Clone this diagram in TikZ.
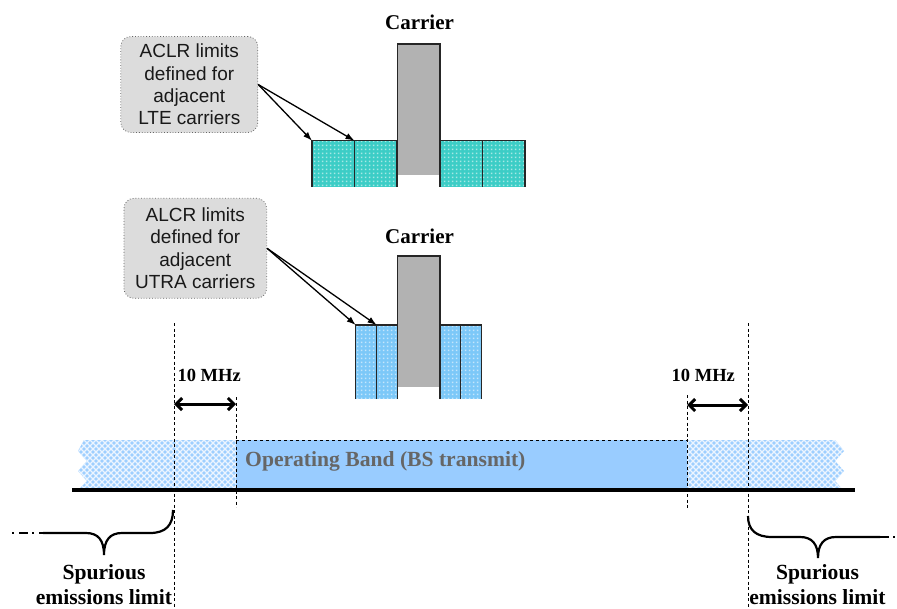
\documentclass[tikz,border=0pt]{standalone}
\usepackage{fontspec}
\setmainfont{Liberation Serif}
\setsansfont{Liberation Sans}
\usepackage{tikz}
\usetikzlibrary{positioning,arrows.meta,patterns}
\usepackage{xcolor}
\definecolor{lteteal}{HTML}{3CCDC6}
\definecolor{utra}{HTML}{7CC8F8}
\definecolor{band}{HTML}{99CCFF}
\definecolor{hatch}{HTML}{9ECFFF}
\definecolor{carrgray}{HTML}{B2B2B2}
\definecolor{notegray}{HTML}{DCDCDC}
\definecolor{bandtext}{HTML}{666666}

\pgfdeclarepatternformonly{sqdots}{\pgfqpoint{0pt}{0pt}}{\pgfqpoint{3.6pt}{3.6pt}}{\pgfqpoint{3.6pt}{3.6pt}}{%
  \pgfpathrectangle{\pgfqpoint{1pt}{1pt}}{\pgfqpoint{1.5pt}{1.5pt}}\pgfusepath{fill}}
\pgfdeclarepatternformonly{diamondhatch}{\pgfqpoint{-1pt}{-1pt}}{\pgfqpoint{7pt}{7pt}}{\pgfqpoint{6pt}{6pt}}{%
  \pgfsetlinewidth{1.1pt}%
  \pgfpathmoveto{\pgfqpoint{0pt}{0pt}}\pgfpathlineto{\pgfqpoint{6pt}{6pt}}%
  \pgfpathmoveto{\pgfqpoint{0pt}{6pt}}\pgfpathlineto{\pgfqpoint{6pt}{0pt}}\pgfusepath{stroke}}

\begin{document}
\begin{tikzpicture}[
    x=1pt, y=-1pt,
    callout/.style={draw=black!60, dotted, line width=0.8pt, fill=notegray, rounded corners=10pt, align=center, inner sep=0pt,
        font=\sffamily\fontsize{19}{22.4}\selectfont, text=black!90},
    lteblk/.style={fill=lteteal, postaction={pattern=sqdots, pattern color=white!55!lteteal}, minimum width=42.5pt, minimum height=46pt, inner sep=0pt, outer sep=0pt},
    utrablk/.style={fill=utra, postaction={pattern=sqdots, pattern color=white!55!utra}, minimum width=20.9pt, minimum height=74pt, inner sep=0pt, outer sep=0pt},
    carr/.style={fill=carrgray, minimum width=42.5pt, minimum height=130.6pt, inner sep=0pt, outer sep=0pt},
    rim/.style={draw=black!85, line width=1.1pt},
    hdr/.style={font=\bfseries\fontsize{21}{25}\selectfont, inner sep=0pt},
    lbl/.style={font=\bfseries\fontsize{21.6}{25}\selectfont, align=center, inner sep=0pt},
    flow/.style={-{Latex[length=9pt,width=6.5pt]}, line width=1.3pt},
    span/.style={{Straight Barb[length=6pt,width=12pt]}-{Straight Barb[length=6pt,width=12pt]}, line width=3pt},
    guide/.style={dash pattern=on 3pt off 2.5pt, line width=0.8pt},
    brace/.style={line width=2.2pt}
]
\useasboundingbox (0,0) rectangle (897,608);

% band with spurious zones either side
\path[fill=hatch, postaction={pattern=diamondhatch, pattern color=white!80!hatch}] (84,440) -- (236,440) -- (236,490) -- (78,490) -- (87,481) -- (78,471) -- (87,461) -- (78,451) -- cycle;
\path[fill=hatch, postaction={pattern=diamondhatch, pattern color=white!80!hatch}] (687,440) -- (835,440) -- (844,451) -- (835,461) -- (844,471) -- (835,481) -- (843,490) -- (687,490) -- cycle;
\fill[band] (236,440) rectangle (687,490);
\draw[dashed, line width=0.7pt] (236,440) -- (687,440);
\node[lbl, text=bandtext, anchor=base west] (opband) at (245,466) {Operating Band (BS transmit)};

% guide lines
\draw[guide] (174,323) -- (174,608);
\draw[guide] (236,397) -- (236,507);
\draw[guide] (687,395) -- (687,508);
\draw[guide] (748,323) -- (748,608);
\draw[line width=3.2pt] (72,490) -- (855,490);

% LTE carriers
\node[lteblk, anchor=north west] (la1) at (312,140.7) {};
\node[lteblk, right=0pt of la1] (la2) {};
\node[carr, anchor=north west] (lc) at (397.5,44) {};
\node[lteblk, anchor=north west] (la3) at (lc.north east |- la2.north) {};
\node[lteblk, right=0pt of la3] (la4) {};
\draw[rim] (la1.south west) |- (la1.north east) -- (la1.south east);
\draw[rim] (la2.south west) |- (la2.north east) -- (la2.south east);
\draw[rim] (lc.south west) |- (lc.north east) -- (lc.south east);
\draw[rim] (la3.south west) |- (la3.north east) -- (la3.south east);
\draw[rim] (la4.south west) |- (la4.north east) -- (la4.south east);
\node[hdr, anchor=base] (ltecarr) at (419.5,29.5) {Carrier};

% UTRA carriers
\node[utrablk, anchor=north west] (ua1) at (355.7,325) {};
\node[utrablk, right=0pt of ua1] (ua2) {};
\node[carr, anchor=north west] (uc) at (397.5,256) {};
\node[utrablk, anchor=north west] (ua3) at (uc.north east |- ua2.north) {};
\node[utrablk, right=0pt of ua3] (ua4) {};
\draw[rim] (ua1.south west) |- (ua1.north east) -- (ua1.south east);
\draw[rim] (ua2.south west) |- (ua2.north east) -- (ua2.south east);
\draw[rim] (uc.south west) |- (uc.north east) -- (uc.south east);
\draw[rim] (ua3.south west) |- (ua3.north east) -- (ua3.south east);
\draw[rim] (ua4.south west) |- (ua4.north east) -- (ua4.south east);
\node[hdr, anchor=base] (utracarr) at (419.5,243.5) {Carrier};

% callouts
\node[callout, minimum width=137pt, minimum height=96pt] (lteNote) at (189.3,84.5) {ACLR limits\\defined for\\adjacent\\LTE carriers};
\node[callout, minimum width=142.7pt, minimum height=100pt] (utraNote) at (195.3,248.3) {ALCR limits\\defined for\\adjacent\\UTRA carriers};
\draw[flow] (lteNote.east) -- (la1.north west);
\draw[flow] (lteNote.east) -- (la2.north west);
\draw[flow] (utraNote.east) -- (ua1.north west);
\draw[flow] (utraNote.east) -- (ua2.north west);

% 10 MHz gaps
\coordinate (w1) at (174,404);
\coordinate (w2) at (236,404);
\coordinate (w3) at (687,405);
\coordinate (w4) at (748,405);
\draw[span] (w1) -- (w2);
\draw[span] (w3) -- (w4);
\node[hdr, font=\bfseries\fontsize{18.5}{22}\selectfont, anchor=base] (gapl) at (209.2,381) {10 MHz};
\node[hdr, font=\bfseries\fontsize{18.5}{22}\selectfont, anchor=base] (gapr) at (703.3,381) {10 MHz};

% spurious emissions braces
\draw[brace, dash pattern=on 2pt off 5pt on 9pt off 4pt] (12,533) -- (43,533);
\draw[brace] (43,533) -- (86,533) .. controls (98,533) and (104,540) .. (104,555) .. controls (104,540) and (110,533) .. (122,533) -- (150,533) .. controls (166,533) and (173,525) .. (173,510);
\draw[brace] (748,516) .. controls (748,530) and (756,537) .. (772,537) -- (800,537) .. controls (812,537) and (818,544) .. (818,558) .. controls (818,544) and (824,537) .. (836,537) -- (880,537);
\draw[brace, dash pattern=on 9pt off 4pt on 2pt off 5pt] (880,537) -- (897,537);
\node[lbl] (spurl) at (104,585) {Spurious\\emissions limit};
\node[lbl] (spurr) at (817.5,585) {Spurious\\emissions limit};
\end{tikzpicture}
\end{document}
